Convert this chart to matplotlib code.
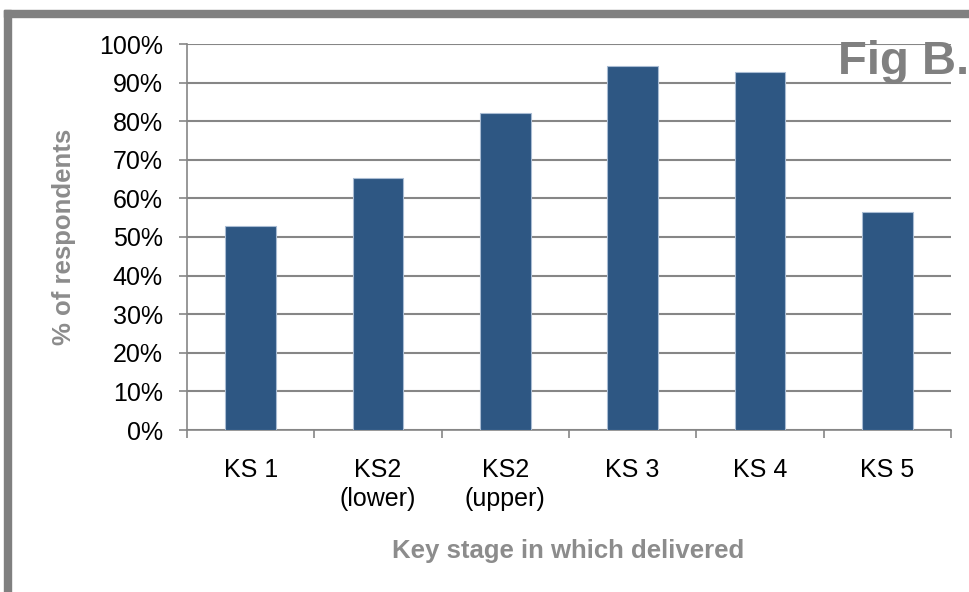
import matplotlib.pyplot as plt
import numpy as np
from matplotlib.patches import Rectangle
from matplotlib.ticker import MultipleLocator, PercentFormatter

plt.rcParams['font.family'] = ['Liberation Sans', 'DejaVu Sans']

# data
categories = ['KS 1', 'KS2\n(lower)', 'KS2\n(upper)', 'KS 3', 'KS 4', 'KS 5']
values = [52.9, 65.3, 82.1, 94.2, 92.8, 56.5]

W, H = 970, 592
fig = plt.figure(figsize=(W / 100, H / 100), dpi=100)

# axes placement in pixels
left, right, top, bottom = 187, 951, 44, 430
ax = fig.add_axes([left / W, 1 - bottom / H, (right - left) / W, (bottom - top) / H])

grey = '#868686'
x = np.arange(len(categories))
ax.bar(x, values, width=0.4, color='#2E5783', edgecolor='#A9BCD3', linewidth=0.8, zorder=3)

ax.set_xlim(-0.5, len(categories) - 0.5)
ax.set_ylim(0, 100)
ax.yaxis.set_major_locator(MultipleLocator(10))
ax.yaxis.set_major_formatter(PercentFormatter(decimals=0))
ax.grid(axis='y', color=grey, linewidth=1.5, zorder=0)

# category labels centred, ticks on the boundaries
ax.set_xticks(x)
ax.set_xticklabels(categories, fontsize=18, linespacing=1.3)
ax.tick_params(axis='x', length=0, pad=20)
ax.set_xticks(np.arange(-0.5, len(categories)), minor=True)
ax.tick_params(axis='x', which='minor', length=5.5, color=grey, width=1.2)
ax.tick_params(axis='y', labelsize=18, length=5.5, color=grey, width=1.2, pad=12)

for side in ['top', 'right']:
    ax.spines[side].set_visible(False)
for side in ['left', 'bottom']:
    ax.spines[side].set_color(grey)
    ax.spines[side].set_linewidth(1.2)

fig.text(64 / W, 1 - 237 / H, '% of respondents', fontsize=18.5, fontweight='bold',
         color='#8C8C8C', rotation=90, ha='center', va='center')
fig.text(568 / W, 1 - 551 / H, 'Key stage in which delivered', fontsize=18.5, fontweight='bold',
         color='#8C8C8C', ha='center', va='center')

fig.text(838 / W, 1 - 62 / H, 'Fig B.', fontsize=34, fontweight='bold', color='#808080',
         ha='left', va='center')

# grey frame along top and left edge
frame = '#808080'
fig.patches.append(Rectangle((4 / W, 1 - 17 / H), 1, 7 / H, transform=fig.transFigure,
                             color=frame, zorder=5))
fig.patches.append(Rectangle((4 / W, 0), 7 / W, 1 - 10 / H, transform=fig.transFigure,
                             color=frame, zorder=5))

fig.savefig('out.png', dpi=100)
